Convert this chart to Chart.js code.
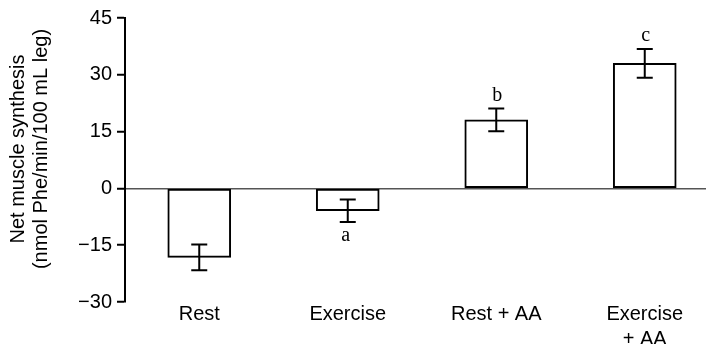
<!DOCTYPE html>
<html>
<head>
<meta charset="utf-8">
<script src="https://cdn.jsdelivr.net/npm/chart.js@4/dist/chart.umd.min.js"></script>
<style>
  html, body { margin: 0; padding: 0; background: #fff; overflow: hidden; }
  #wrap { width: 706px; height: 344px; overflow: hidden; }
</style>
</head>
<body>
<div id="wrap"><canvas id="myChart" width="722" height="344"></canvas></div>
<script>
var categories = [['Rest'], ['Exercise'], ['Rest + AA'], ['Exercise', '+ AA']];
var netSynthesis = [-18.2, -5.9, 18.1, 33.0];
var errors = [3.4, 3.0, 3.0, 3.8];
var sigLetters = ['', 'a', 'b', 'c'];
var yTicks = [-30, -15, 0, 15, 30, 45];
var yTitle = ['Net muscle synthesis', '(nmol Phe/min/100 mL leg)'];

var sans = "'Liberation Sans', Arial, sans-serif";
var serif = "'Liberation Serif', 'Times New Roman', serif";

// error bars + letters
var errorBars = {
  id: 'errorBars',
  afterDatasetsDraw: function(chart) {
    var ctx = chart.ctx;
    var x = chart.scales.x, y = chart.scales.y;
    ctx.save();
    ctx.strokeStyle = '#000';
    ctx.lineWidth = 2;
    ctx.fillStyle = '#000';
    ctx.font = '20px ' + serif;
    ctx.textAlign = 'center';
    ctx.textBaseline = 'alphabetic';
    for (var i = 0; i < netSynthesis.length; i++) {
      var cx = x.getPixelForValue(i);
      var hi = y.getPixelForValue(netSynthesis[i] + errors[i]);
      var lo = y.getPixelForValue(netSynthesis[i] - errors[i]);
      ctx.beginPath();
      ctx.moveTo(cx, hi); ctx.lineTo(cx, lo);
      ctx.moveTo(cx - 8, hi); ctx.lineTo(cx + 8, hi);
      ctx.moveTo(cx - 8, lo); ctx.lineTo(cx + 8, lo);
      ctx.stroke();
      if (sigLetters[i]) {
        if (netSynthesis[i] < 0) ctx.fillText(sigLetters[i], cx - 2, lo + 19);
        else ctx.fillText(sigLetters[i], cx + 1, hi - 8);
      }
    }
    ctx.restore();
  }
};

// two-line rotated y title
var sideTitle = {
  id: 'sideTitle',
  afterDraw: function(chart) {
    var ctx = chart.ctx;
    ctx.save();
    ctx.fillStyle = '#000';
    ctx.font = '20px ' + sans;
    ctx.textAlign = 'center';
    ctx.textBaseline = 'middle';
    ctx.translate(0, 149);
    ctx.rotate(-Math.PI / 2);
    ctx.fillText(yTitle[0], 0, 18);
    ctx.fillText(yTitle[1], 0, 41);
    ctx.restore();
  }
};

var ctx = document.getElementById('myChart');
var myChart = new Chart(ctx, {
  type: 'bar',
  data: {
    labels: categories,
    datasets: [{
      data: netSynthesis,
      backgroundColor: '#fff',
      borderColor: '#000',
      borderWidth: 2,
      borderSkipped: false,
      barThickness: 63
    }]
  },
  plugins: [errorBars, sideTitle],
  options: {
    responsive: false,
    animation: false,
    layout: { padding: { top: 18, right: 3, left: 0, bottom: 0 } },
    plugins: { legend: { display: false }, tooltip: { enabled: false } },
    scales: {
      x: {
        grid: { display: false, drawTicks: false },
        border: { display: false },
        ticks: {
          color: '#000',
          padding: 0,
          font: { family: sans, size: 20, lineHeight: 1.25 },
          maxRotation: 0,
          autoSkip: false
        },
        afterFit: function(s) { s.height = 42; }
      },
      y: {
        min: -30,
        max: 45,
        afterBuildTicks: function(s) { s.ticks = yTicks.map(function(v) { return { value: v }; }); },
        border: { display: true, color: '#000', width: 2 },
        grid: {
          drawOnChartArea: true,
          color: function(c) { return c.tick && c.tick.value === 0 ? '#555' : 'rgba(0,0,0,0)'; },
          lineWidth: 1.5,
          tickColor: '#000',
          tickWidth: 2,
          tickLength: 8
        },
        ticks: {
          color: '#000',
          padding: 5,
          font: { family: sans, size: 20 },
          callback: function(v) { return String(v).replace('-', '\u2212'); }
        },
        afterFit: function(s) { s.width = 125; }
      }
    }
  }
});
</script>
</body>
</html>
